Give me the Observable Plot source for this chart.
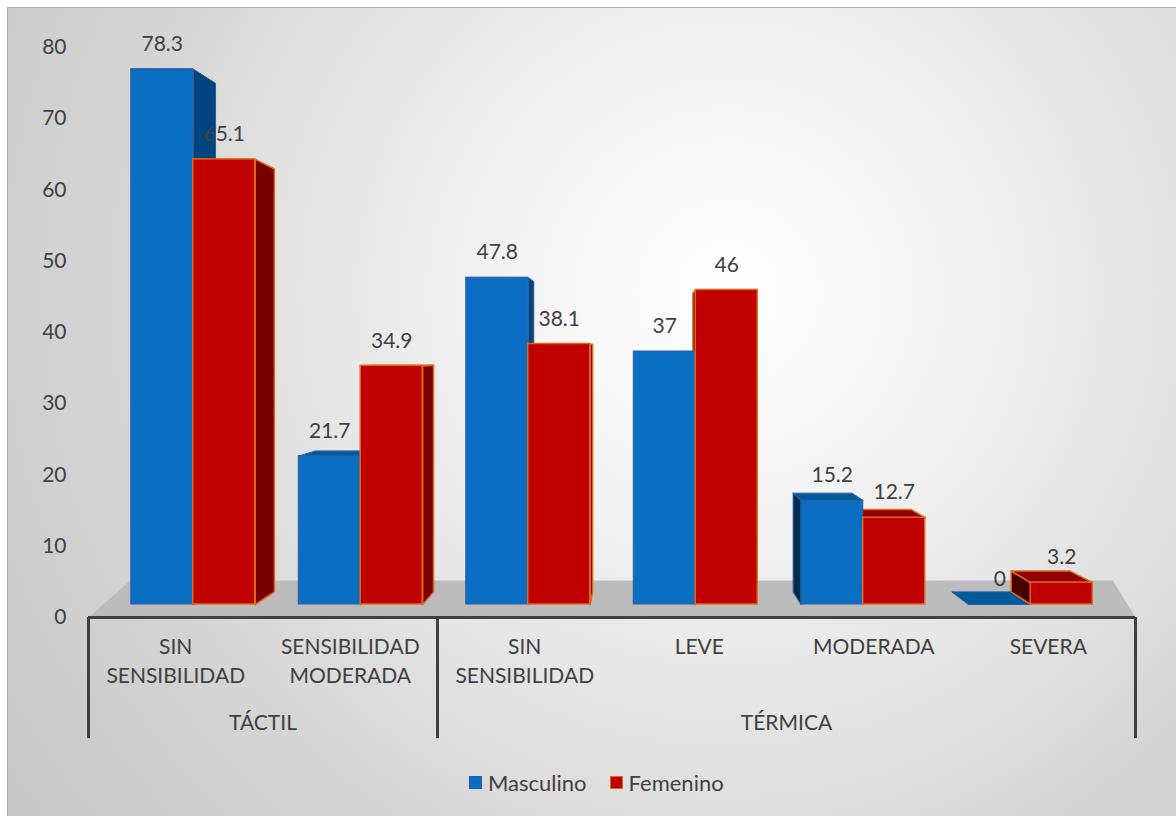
<!DOCTYPE html>
<html>
<head>
<meta charset="utf-8">
<script src="https://cdn.jsdelivr.net/npm/d3@7"></script>
<script src="https://cdn.jsdelivr.net/npm/@observablehq/plot@0.6"></script>
<style>
  html, body { margin: 0; padding: 0; background: #fff; }
  #wrap { position: relative; width: 1176px; height: 816px; overflow: hidden; background: #fff; font-family: Lato, "Open Sans", sans-serif; }
  #bg { position: absolute; left: 7px; top: 7px; width: 1200px; height: 840px;
        border-top: 1px solid #a9a9a9; border-left: 1px solid #a9a9a9;
        background: radial-gradient(circle farthest-corner at 60% 34%, #ffffff 0%, #f7f7f7 18%, #e6e6e6 45%, #d4d4d4 70%, #c6c6c6 100%); }
  .layer { position: absolute; left: 0; top: 0; }
  #legend { position: absolute; left: 469px; top: 769px; display: flex; align-items: center; font-size: 22px; color: #404040; }
  #legend .item { display: flex; align-items: center; margin-right: 23px; }
  #legend .sw { width: 11px; height: 11px; margin-right: 6px; }
</style>
</head>
<body>
<div id="wrap">
  <div id="bg"></div>
  <div id="a" class="layer"></div>
  <div id="b" class="layer"></div>
  <div id="legend"></div>
</div>
<script>
// ---- data ----
const grupos = ["TÁCTIL", "TÁCTIL", "TÉRMICA", "TÉRMICA", "TÉRMICA", "TÉRMICA"];
const categorias = ["SIN\nSENSIBILIDAD", "SENSIBILIDAD\nMODERADA", "SIN\nSENSIBILIDAD", "LEVE", "MODERADA", "SEVERA"];
const series = ["Masculino", "Femenino"];
const masculino = [78.3, 21.7, 47.8, 37, 15.2, 0];
const femenino = [65.1, 34.9, 38.1, 46, 12.7, 3.2];
const yTicks = [0, 10, 20, 30, 40, 50, 60, 70, 80];

// ---- styles ----
const FONT = "Lato, 'Open Sans', sans-serif";
const FS = 21;
const TXT = "#404040";
const palette = {
  Masculino: {front: "#0a6fc2", stroke: "#2f5aa0", right: "#00457e", left: "#002a50", top: "#005a9c", sw: 1},
  Femenino:  {front: "#c00000", stroke: "#dc6a1e", right: "#780000", left: "#4a0000", top: "#900000", sw: 1.5}
};

// ---- Plot A: front plane (axes, floor, labels) ----
const n = categorias.length;
const bounds = [0];
for (let i = 1; i < n; i++) if (grupos[i] !== grupos[i - 1]) bounds.push(i);
bounds.push(n);
const groupRows = bounds.slice(0, -1).map((s, k) => ({name: grupos[s], c: (s + bounds[k + 1]) / 2}));
const floor = [{x: 0, y: 0}, {x: n, y: 0}, {x: n - 0.13, y: 5.2}, {x: 0.24, y: 5.2}];

const plotA = Plot.plot({
  width: 1176, height: 760,
  marginLeft: 88, marginRight: 41, marginTop: 47, marginBottom: 143,
  style: {background: "transparent", fontFamily: FONT, fontSize: FS + "px", color: TXT, overflow: "visible"},
  x: {domain: [0, n], axis: null},
  y: {domain: [0, 80], ticks: yTicks, tickSize: 0, tickPadding: 22, label: null},
  marks: [
    Plot.line(floor, {x: "x", y: "y", fill: "#bcbcbc", stroke: "none", curve: "linear-closed"}),
    Plot.ruleY([0], {x1: 0, x2: n, stroke: "#404040", strokeWidth: 3}),
    Plot.ruleX(bounds, {y1: 0, y2: -17, stroke: "#404040", strokeWidth: 3}),
    Plot.text(categorias, {x: (d, i) => i + 0.5, y: 0, dy: 16, text: d => d, lineAnchor: "top", lineHeight: 29 / FS, fontSize: FS, fill: TXT}),
    Plot.text(groupRows, {x: "c", y: 0, dy: 106, text: "name", fontSize: FS, fill: TXT})
  ]
});
document.getElementById("a").appendChild(plotA);

// ---- Plot B: 3D bars ----
const BW = 0.37;           // bar width in category units
const VX = 2.66, VY = 36.9, K = 0.05; // vanishing point & depth
const back = (x, y) => ({x: x + K * (VX - x), y: y + K * (VY - y)});

const bars = [];
categorias.forEach((c, i) => {
  series.forEach((s, j) => {
    const v = (j === 0 ? masculino : femenino)[i];
    const x0 = j === 0 ? i - BW : i;
    bars.push({s, i, v, x0, x1: x0 + BW, xc: x0 + BW / 2});
  });
});

const faces = [];
let id = 0;
bars.forEach(b => {
  const p = palette[b.s];
  if (VX > b.x1) {
    const a = back(b.x1, b.v), z = back(b.x1, 0);
    faces.push(...[{x: b.x1, y: 0}, {x: b.x1, y: b.v}, a, z].map(q => ({...q, id, fill: p.right, stroke: p.stroke, s: b.s})));
    id++;
  } else if (VX < b.x0) {
    const a = back(b.x0, b.v), z = back(b.x0, 0);
    faces.push(...[{x: b.x0, y: 0}, {x: b.x0, y: b.v}, a, z].map(q => ({...q, id, fill: p.left, stroke: p.stroke, s: b.s})));
    id++;
  }
  if (b.v < VY) {
    const a = back(b.x1, b.v), z = back(b.x0, b.v);
    faces.push(...[{x: b.x0, y: b.v}, {x: b.x1, y: b.v}, a, z].map(q => ({...q, id, fill: p.top, stroke: p.stroke, s: b.s})));
    id++;
  }
});

const marksB = [];
series.forEach(s => {
  marksB.push(Plot.line(faces.filter(f => f.s === s), {x: "x", y: "y", z: "id", fill: "fill", stroke: "stroke", strokeWidth: palette[s].sw, curve: "linear-closed", strokeLinejoin: "round"}));
});
series.forEach(s => {
  const p = palette[s];
  marksB.push(Plot.rect(bars.filter(b => b.s === s && b.v > 0), {x1: "x0", x2: "x1", y1: 0, y2: "v", fill: p.front, stroke: p.stroke, strokeWidth: p.sw}));
});
marksB.push(Plot.text(bars, {x: "xc", y: "v", dy: -25, text: d => String(d.v), fontSize: FS, fill: TXT}));

const plotB = Plot.plot({
  width: 1176, height: 760,
  marginLeft: 109, marginRight: 62, marginTop: 57, marginBottom: 156,
  style: {background: "transparent", fontFamily: FONT, fontSize: FS + "px", color: TXT, overflow: "visible"},
  x: {domain: [-0.5, n - 0.5], axis: null},
  y: {domain: [0, 80], axis: null},
  color: {type: "identity"},
  marks: marksB
});
document.getElementById("b").appendChild(plotB);

// ---- legend ----
const lg = document.getElementById("legend");
series.forEach(s => {
  const it = document.createElement("div");
  it.className = "item";
  const sw = document.createElement("span");
  sw.className = "sw";
  sw.style.background = palette[s].front;
  sw.style.border = `1.5px solid ${palette[s].stroke}`;
  const t = document.createElement("span");
  t.textContent = s;
  it.appendChild(sw); it.appendChild(t);
  lg.appendChild(it);
});
</script>
</body>
</html>
